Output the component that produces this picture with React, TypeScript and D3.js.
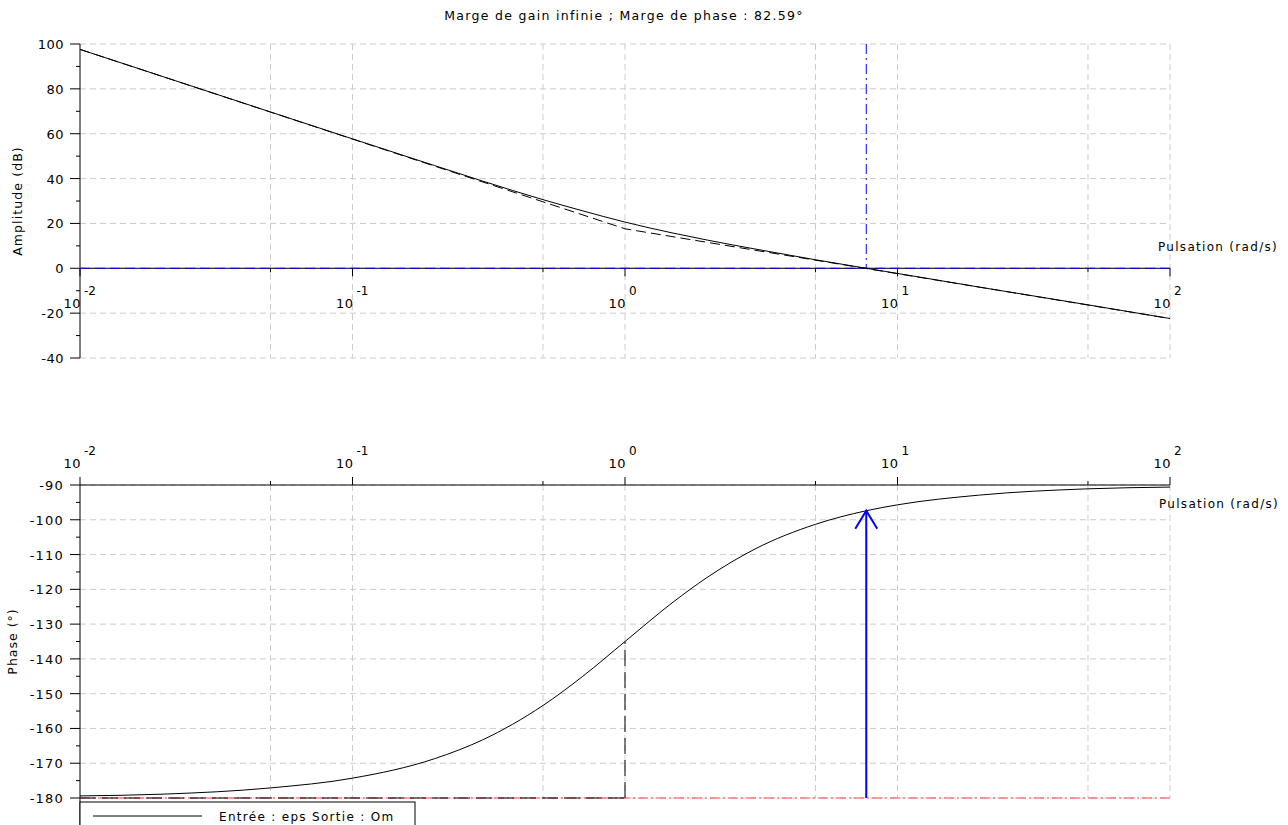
import React from 'react'
import * as d3 from 'd3'

// values
const freqs = [0.01, 0.02, 0.05, 0.1, 0.2, 0.3, 0.5, 0.7, 1, 1.5, 2, 3, 5, 7.68, 10, 20, 50, 100]
const gainDb = [97.6, 85.6, 69.7, 57.7, 45.8, 38.9, 30.6, 25.6, 20.6, 15.7, 12.6, 8.6, 3.8, 0, -2.3, -8.4, -16.3, -22.4]
const phaseDeg = [-179.4, -178.9, -177.1, -174.3, -168.7, -163.3, -153.4, -145.0, -135.0, -123.7, -116.6, -108.4, -101.3, -97.4, -95.7, -92.9, -91.1, -90.6]
const asymFreqs = [0.01, 1, 100]
const asymDb = [97.6, 17.6, -22.4]
const crossFreq = 7.68
const crossPhase = -97.41
const cornerFreq = 1
const cornerPhase = -135

const decades = [-2, -1, 0, 1, 2]
const gridFreqs = [0.05, 0.1, 0.5, 1, 5, 10, 50, 100]
const minorFreqs = [0.05, 0.5, 5, 50]
const gainTicks = [100, 80, 60, 40, 20, 0, -20, -40]
const gainMinor = [90, 70, 50, 30, 10, -10, -30]
const phaseTicks = [-90, -100, -110, -120, -130, -140, -150, -160, -170, -180]
const phaseMinor = [-95, -105, -115, -125, -135, -145, -155, -165, -175]

const title = 'Marge de gain infinie ; Marge de phase : 82.59°'
const legendText = 'Entrée : eps Sortie : Om'

const font = 'DejaVu Sans, sans-serif'
const gridColor = '#cccccc'

export default function App() {
  const x = d3.scaleLog().domain([0.01, 100]).range([80, 1170])
  const yG = d3.scaleLinear().domain([-40, 100]).range([358, 44])
  const yP = d3.scaleLinear().domain([-180, -90]).range([798, 485])

  const gainLine = d3.line<number>()
    .x((d, i) => x(freqs[i]))
    .y(d => yG(d))
    .curve(d3.curveMonotoneX)
  const asymLine = d3.line<number>()
    .x((d, i) => x(asymFreqs[i]))
    .y(d => yG(d))
  const phaseLine = d3.line<number>()
    .x((d, i) => x(freqs[i]))
    .y(d => yP(d))
    .curve(d3.curveMonotoneX)

  const xl = x.range()[0]
  const xr = x.range()[1]
  const y0 = yG(0)
  const yTop = yP(-90)
  const xc = x(crossFreq)
  const tipY = yP(crossPhase)

  return (
    <svg width={1288} height={825} style={{ position: 'absolute', left: 0, top: 0, background: '#fff' }}
      fontFamily={font}>
      <text x={624} y={20} textAnchor="middle" fontSize={12.5} letterSpacing={1.3}>{title}</text>

      {/* ---- gain plot ---- */}
      <g stroke={gridColor} strokeDasharray="6,4" strokeWidth={1}>
        {gridFreqs.map(f => (
          <line key={'gv' + f} x1={x(f)} x2={x(f)} y1={yG(100)} y2={yG(-40)} />
        ))}
        {gainTicks.map(t => (
          <line key={'gh' + t} x1={xl} x2={xr} y1={yG(t)} y2={yG(t)} />
        ))}
      </g>
      <line x1={xl} x2={xl} y1={yG(100)} y2={yG(-40)} stroke="#000" />
      {gainTicks.map(t => (
        <g key={'gt' + t}>
          <line x1={xl - 10} x2={xl} y1={yG(t)} y2={yG(t)} stroke="#000" />
          <text x={xl - 16} y={yG(t) + 5} textAnchor="end" fontSize={13} letterSpacing={0.5}>{t}</text>
        </g>
      ))}
      {gainMinor.map(t => (
        <line key={'gm' + t} x1={xl - 4} x2={xl} y1={yG(t)} y2={yG(t)} stroke="#000" />
      ))}
      <text transform={`translate(22,${(yG(100) + yG(-40)) / 2}) rotate(-90)`} textAnchor="middle"
        fontSize={12.5} letterSpacing={1.1}>Amplitude (dB)</text>

      <line x1={xl} x2={xr} y1={y0} y2={y0} stroke="#000" />
      <line x1={xl} x2={xr} y1={y0} y2={y0} stroke="#0000ff" strokeDasharray="10,5" />
      {decades.map(p => (
        <g key={'gd' + p}>
          <line x1={x(10 ** p)} x2={x(10 ** p)} y1={y0} y2={y0 + 8} stroke="#000" />
          <text x={x(10 ** p) + 1} y={308} textAnchor="end" fontSize={13} letterSpacing={0.5}>10</text>
          <text x={x(10 ** p) + 4} y={295} textAnchor="start" fontSize={12}>{p}</text>
        </g>
      ))}
      {minorFreqs.map(f => (
        <line key={'gmf' + f} x1={x(f)} x2={x(f)} y1={y0} y2={y0 + 4} stroke="#000" />
      ))}
      <text x={1158} y={251} fontSize={12} letterSpacing={1.3}>Pulsation (rad/s)</text>

      <path d={asymLine(asymDb) || ''} fill="none" stroke="#000" strokeDasharray="10,5" />
      <path d={gainLine(gainDb) || ''} fill="none" stroke="#000" />
      <line x1={xc} x2={xc} y1={yG(100)} y2={y0} stroke="#0000ff" strokeDasharray="10,4,2,4" />

      {/* ---- phase plot ---- */}
      <g stroke={gridColor} strokeDasharray="6,4" strokeWidth={1}>
        {gridFreqs.map(f => (
          <line key={'pv' + f} x1={x(f)} x2={x(f)} y1={yP(-90)} y2={yP(-180)} />
        ))}
        {phaseTicks.map(t => (
          <line key={'ph' + t} x1={xl} x2={xr} y1={yP(t)} y2={yP(t)} />
        ))}
      </g>
      <line x1={xl} x2={xl} y1={yP(-90)} y2={825} stroke="#000" />
      {phaseTicks.map(t => (
        <g key={'pt' + t}>
          <line x1={xl - 10} x2={xl} y1={yP(t)} y2={yP(t)} stroke="#000" />
          <text x={xl - 16} y={yP(t) + 5} textAnchor="end" fontSize={13} letterSpacing={1.2}>{t}</text>
        </g>
      ))}
      {phaseMinor.map(t => (
        <line key={'pm' + t} x1={xl - 4} x2={xl} y1={yP(t)} y2={yP(t)} stroke="#000" />
      ))}
      <text transform={`translate(17,${(yP(-90) + yP(-180)) / 2}) rotate(-90)`} textAnchor="middle"
        fontSize={12.5} letterSpacing={1}>Phase (°)</text>

      <line x1={xl} x2={xr} y1={yTop} y2={yTop} stroke="#000" />
      {decades.map(p => (
        <g key={'pd' + p}>
          <line x1={x(10 ** p)} x2={x(10 ** p)} y1={yTop} y2={yTop - 8} stroke="#000" />
          <text x={x(10 ** p) + 1} y={468} textAnchor="end" fontSize={13} letterSpacing={0.5}>10</text>
          <text x={x(10 ** p) + 4} y={455} textAnchor="start" fontSize={12}>{p}</text>
        </g>
      ))}
      {minorFreqs.map(f => (
        <line key={'pmf' + f} x1={x(f)} x2={x(f)} y1={yTop} y2={yTop - 4} stroke="#000" />
      ))}
      <text x={1159} y={508} fontSize={12} letterSpacing={1.3}>Pulsation (rad/s)</text>

      <line x1={xl} x2={xr} y1={yP(-180)} y2={yP(-180)} stroke="#ff4040" strokeDasharray="10,3,2,3" />
      <line x1={xl} x2={x(cornerFreq)} y1={yP(-180)} y2={yP(-180)} stroke="#000" strokeDasharray="16,6" />
      <line x1={x(cornerFreq)} x2={x(cornerFreq)} y1={yP(-180)} y2={yP(cornerPhase)} stroke="#000" strokeDasharray="16,6" />
      <path d={phaseLine(phaseDeg) || ''} fill="none" stroke="#000" />

      <g stroke="#0000ff" strokeWidth={2} fill="none">
        <line x1={xc} x2={xc} y1={yP(-180)} y2={tipY} />
        <polyline points={`${xc - 11},${tipY + 18} ${xc},${tipY} ${xc + 11},${tipY + 18}`} />
      </g>

      {/* legend */}
      <rect x={80} y={802} width={335} height={40} fill="#fff" stroke="#000" />
      <line x1={93} x2={202} y1={816} y2={816} stroke="#000" />
      <text x={219} y={821} fontSize={12} letterSpacing={1.3}>{legendText}</text>
    </svg>
  )
}
